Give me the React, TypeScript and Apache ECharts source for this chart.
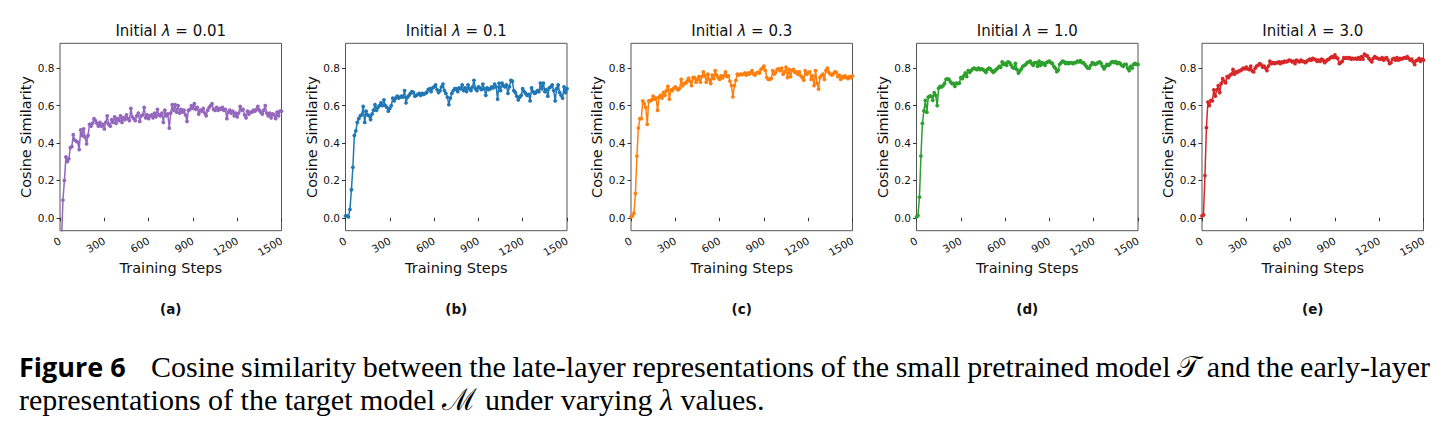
import React, { useEffect, useRef } from "react";
import * as echarts from "echarts";

// ---------------- data ----------------
const STEP_SIZE = 10; // training steps between logged points (x = index * STEP_SIZE)
const X_TICKS = [0, 300, 600, 900, 1200, 1500];
const Y_TICKS = [0.0, 0.2, 0.4, 0.6, 0.8];
const LAMBDA_LABELS = ["0.01", "0.1", "0.3", "1.0", "3.0"];
const SUB_LABELS = ["(a)", "(b)", "(c)", "(d)", "(e)"];
const COLORS = ["#9467bd", "#1f77b4", "#ff7f0e", "#2ca02c", "#d62728"];

const SIM_LAMBDA_001 = [
  -0.5, -0.12, 0.095, 0.2, 0.325, 0.3, 0.315, 0.375, 0.38, 0.445,
  0.415, 0.41, 0.405, 0.365, 0.47, 0.44, 0.475, 0.43, 0.395, 0.44,
  0.5, 0.49, 0.505, 0.53, 0.52, 0.505, 0.49, 0.51, 0.49, 0.5,
  0.475, 0.51, 0.545, 0.5, 0.49, 0.525, 0.51, 0.54, 0.505, 0.53,
  0.52, 0.545, 0.51, 0.535, 0.525, 0.55, 0.53, 0.52, 0.585, 0.54,
  0.53, 0.52, 0.545, 0.56, 0.515, 0.545, 0.55, 0.59, 0.535, 0.55,
  0.53, 0.545, 0.55, 0.535, 0.56, 0.54, 0.58, 0.55, 0.545, 0.56,
  0.51, 0.575, 0.545, 0.555, 0.48, 0.56, 0.605, 0.575, 0.605, 0.565,
  0.6, 0.56, 0.58, 0.565, 0.575, 0.55, 0.515, 0.575, 0.58, 0.6,
  0.585, 0.61, 0.58, 0.59, 0.555, 0.575, 0.57, 0.585, 0.56, 0.545,
  0.575, 0.59, 0.6, 0.61, 0.58, 0.575, 0.59, 0.575, 0.585, 0.58,
  0.59, 0.575, 0.58, 0.53, 0.565, 0.575, 0.56, 0.57, 0.545, 0.56,
  0.54, 0.56, 0.595, 0.575, 0.58, 0.55, 0.535, 0.57, 0.555, 0.565,
  0.565, 0.575, 0.57, 0.58, 0.595, 0.575, 0.565, 0.555, 0.575, 0.6,
  0.56, 0.545, 0.56, 0.535, 0.555, 0.55, 0.53, 0.565, 0.545, 0.57,
  0.57,
];

const SIM_LAMBDA_01 = [
  0.01, 0.01, 0.005, 0.045, 0.15, 0.27, 0.44, 0.465, 0.51, 0.53,
  0.545, 0.55, 0.595, 0.51, 0.57, 0.55, 0.545, 0.525, 0.555, 0.575,
  0.605, 0.575, 0.59, 0.6, 0.615, 0.6, 0.63, 0.6, 0.59, 0.57,
  0.585, 0.6, 0.64, 0.625, 0.64, 0.65, 0.64, 0.645, 0.65, 0.645,
  0.68, 0.615, 0.645, 0.655, 0.665, 0.675, 0.67, 0.65, 0.655, 0.66,
  0.665, 0.655, 0.665, 0.66, 0.665, 0.67, 0.685, 0.69, 0.675, 0.695,
  0.7, 0.71, 0.685, 0.67, 0.68, 0.7, 0.715, 0.68, 0.665, 0.645,
  0.605, 0.64, 0.665, 0.68, 0.69, 0.69, 0.675, 0.695, 0.69, 0.71,
  0.68, 0.695, 0.675, 0.71, 0.69, 0.68, 0.7, 0.735, 0.69, 0.68,
  0.7, 0.695, 0.685, 0.715, 0.69, 0.655, 0.695, 0.685, 0.69, 0.7,
  0.695, 0.715, 0.7, 0.635, 0.72, 0.68, 0.72, 0.705, 0.7, 0.71,
  0.665, 0.7, 0.735, 0.73, 0.68, 0.67, 0.65, 0.63, 0.645, 0.655,
  0.69, 0.675, 0.665, 0.655, 0.66, 0.625, 0.695, 0.675, 0.665, 0.67,
  0.68, 0.675, 0.72, 0.69, 0.72, 0.675, 0.685, 0.65, 0.695, 0.7,
  0.71, 0.68, 0.625, 0.69, 0.71, 0.67, 0.655, 0.64, 0.7, 0.67,
  0.69,
];

const SIM_LAMBDA_03 = [
  0.005, 0.01, 0.025, 0.13, 0.33, 0.48, 0.53, 0.53, 0.625, 0.61,
  0.59, 0.5, 0.625, 0.625, 0.63, 0.65, 0.635, 0.64, 0.575, 0.645,
  0.655, 0.64, 0.67, 0.655, 0.68, 0.703, 0.634, 0.684, 0.68, 0.693,
  0.7, 0.69, 0.684, 0.693, 0.74, 0.707, 0.718, 0.72, 0.73, 0.746,
  0.731, 0.707, 0.75, 0.75, 0.725, 0.74, 0.755, 0.725, 0.755, 0.78,
  0.759, 0.725, 0.768, 0.74, 0.718, 0.763, 0.744, 0.787, 0.763, 0.75,
  0.74, 0.759, 0.748, 0.76, 0.78, 0.755, 0.759, 0.731, 0.707, 0.647,
  0.707, 0.735, 0.768, 0.763, 0.768, 0.765, 0.768, 0.774, 0.763, 0.774,
  0.768, 0.778, 0.787, 0.768, 0.763, 0.775, 0.778, 0.774, 0.793, 0.8,
  0.811, 0.787, 0.75, 0.74, 0.74, 0.745, 0.787, 0.768, 0.778, 0.793,
  0.796, 0.787, 0.8, 0.768, 0.78, 0.806, 0.75, 0.793, 0.755, 0.787,
  0.793, 0.778, 0.78, 0.768, 0.78, 0.759, 0.75, 0.736, 0.787, 0.768,
  0.775, 0.78, 0.74, 0.759, 0.707, 0.787, 0.72, 0.688, 0.75, 0.76,
  0.768, 0.74, 0.787, 0.8, 0.778, 0.768, 0.763, 0.77, 0.78, 0.778,
  0.755, 0.763, 0.74, 0.755, 0.75, 0.759, 0.75, 0.744, 0.755, 0.75,
  0.759,
];

const SIM_LAMBDA_10 = [
  0.005, 0.012, 0.11, 0.33, 0.505, 0.572, 0.628, 0.565, 0.645, 0.65,
  0.65, 0.628, 0.669, 0.655, 0.6, 0.693, 0.702, 0.7, 0.707, 0.718,
  0.74, 0.743, 0.74, 0.727, 0.718, 0.718, 0.703, 0.72, 0.718, 0.72,
  0.75, 0.744, 0.759, 0.774, 0.755, 0.787, 0.778, 0.787, 0.796, 0.8,
  0.796, 0.793, 0.8, 0.793, 0.796, 0.793, 0.787, 0.778, 0.793, 0.8,
  0.796, 0.787, 0.778, 0.785, 0.793, 0.8, 0.81, 0.805, 0.834, 0.82,
  0.825, 0.815, 0.834, 0.83, 0.818, 0.805, 0.8, 0.825, 0.793, 0.774,
  0.785, 0.796, 0.81, 0.815, 0.82, 0.83, 0.834, 0.837, 0.825, 0.815,
  0.83, 0.83, 0.81, 0.837, 0.815, 0.83, 0.825, 0.815, 0.83, 0.834,
  0.837, 0.83, 0.825, 0.81, 0.8, 0.781, 0.79, 0.82, 0.83, 0.837,
  0.834, 0.825, 0.83, 0.825, 0.83, 0.828, 0.825, 0.83, 0.83, 0.837,
  0.834, 0.84, 0.83, 0.83, 0.82, 0.81, 0.8, 0.8, 0.815, 0.83,
  0.825, 0.82, 0.825, 0.83, 0.834, 0.825, 0.81, 0.796, 0.81, 0.82,
  0.815, 0.822, 0.832, 0.835, 0.83, 0.835, 0.825, 0.83, 0.825, 0.815,
  0.81, 0.82, 0.82, 0.8, 0.787, 0.81, 0.8, 0.82, 0.825, 0.82,
  0.82,
];

const SIM_LAMBDA_30 = [
  0.01, 0.015, 0.226, 0.482, 0.619, 0.6, 0.628, 0.625, 0.684, 0.65,
  0.684, 0.707, 0.67, 0.718, 0.744, 0.731, 0.722, 0.755, 0.75, 0.763,
  0.768, 0.793, 0.768, 0.78, 0.778, 0.785, 0.787, 0.793, 0.8, 0.796,
  0.806, 0.796, 0.793, 0.811, 0.785, 0.78, 0.8, 0.811, 0.815, 0.824,
  0.819, 0.806, 0.811, 0.8, 0.787, 0.811, 0.837, 0.824, 0.83, 0.824,
  0.83, 0.828, 0.834, 0.824, 0.834, 0.83, 0.837, 0.834, 0.837, 0.843,
  0.84, 0.834, 0.837, 0.824, 0.843, 0.837, 0.834, 0.843, 0.837, 0.835,
  0.83, 0.837, 0.843, 0.848, 0.843, 0.852, 0.848, 0.845, 0.837, 0.843,
  0.837, 0.848, 0.843, 0.83, 0.837, 0.845, 0.848, 0.856, 0.862, 0.856,
  0.871, 0.856, 0.852, 0.824, 0.83, 0.837, 0.856, 0.852, 0.856, 0.852,
  0.856, 0.848, 0.852, 0.85, 0.852, 0.848, 0.856, 0.848, 0.862, 0.848,
  0.875, 0.868, 0.865, 0.852, 0.843, 0.834, 0.852, 0.862, 0.856, 0.852,
  0.85, 0.848, 0.856, 0.843, 0.852, 0.856, 0.843, 0.824, 0.83, 0.848,
  0.852, 0.843, 0.856, 0.843, 0.852, 0.848, 0.852, 0.856, 0.854, 0.862,
  0.852, 0.843, 0.848, 0.834, 0.819, 0.84, 0.843, 0.852, 0.837, 0.848,
  0.843,
];

const SERIES_VALUES = [SIM_LAMBDA_001, SIM_LAMBDA_01, SIM_LAMBDA_03, SIM_LAMBDA_10, SIM_LAMBDA_30];

// ---------------- layout ----------------
const W = 1448;
const H = 428;
const GRID_LEFT = [60, 345.5, 631, 916.5, 1202];
const GRID_TOP = 43.3;
const GRID_W = 221.5;
const GRID_H = 187.4;
const Y_MIN = -0.069;
const Y_MAX = 0.933;

const SANS = "'DejaVu Sans', sans-serif";
const SERIF = "'Liberation Serif', 'DejaVu Serif', serif";
const TEXT_COLOR = "#111";

const CAPTION_LINE1 =
  "Cosine similarity between the late-layer representations of the small pretrained model 𝒯 and the early-layer";
const CAPTION_LINE2_A = "representations of the target model ";
const CAPTION_LINE2_B = " under varying ";
const CAPTION_LINE2_C = " values.";

function measure(text: string, font: string): number {
  const c = document.createElement("canvas").getContext("2d");
  if (!c) return text.length * 12;
  c.font = font;
  return c.measureText(text).width;
}

function buildOption() {
  const grid = GRID_LEFT.map((left) => ({
    left,
    top: GRID_TOP,
    width: GRID_W,
    height: GRID_H,
    show: true,
    borderColor: "#555",
    borderWidth: 1,
    backgroundColor: "transparent",
  }));

  const xAxis = GRID_LEFT.map((_, i) => ({
    type: "value",
    gridIndex: i,
    min: X_TICKS[0],
    max: X_TICKS[X_TICKS.length - 1],
    interval: X_TICKS[1] - X_TICKS[0],
    splitLine: { show: false },
    axisLine: { show: false },
    axisTick: { show: true, length: 3.5, lineStyle: { color: "#333", width: 1 } },
    axisLabel: {
      rotate: 30,
      fontSize: 10.5,
      fontFamily: SANS,
      color: TEXT_COLOR,
      margin: 9,
      showMinLabel: true,
      showMaxLabel: true,
      hideOverlap: false,
      formatter: (v: number) => String(v),
    },
    name: "Training Steps",
    nameLocation: "middle",
    nameGap: 27,
    nameTextStyle: { fontSize: 14.5, fontFamily: SANS, color: TEXT_COLOR },
  }));

  const yAxis = GRID_LEFT.map((_, i) => ({
    type: "value",
    gridIndex: i,
    min: Y_MIN,
    max: Y_MAX,
    splitLine: { show: false },
    axisLine: { show: false },
    axisTick: {
      show: true,
      length: 3.5,
      customValues: Y_TICKS,
      lineStyle: { color: "#333", width: 1 },
    },
    axisLabel: {
      customValues: Y_TICKS,
      formatter: (v: number) => v.toFixed(1),
      fontSize: 10.5,
      fontFamily: SANS,
      color: TEXT_COLOR,
      margin: 5.5,
    },
    name: "Cosine Similarity",
    nameLocation: "middle",
    nameGap: 21.5,
    nameTextStyle: { fontSize: 14.5, fontFamily: SANS, color: TEXT_COLOR },
  }));

  const series = SERIES_VALUES.map((vals, i) => ({
    type: "line",
    xAxisIndex: i,
    yAxisIndex: i,
    data: vals.map((v, k) => [k * STEP_SIZE, v]),
    symbol: "circle",
    symbolSize: 3.8,
    showSymbol: true,
    clip: true,
    silent: true,
    lineStyle: { color: COLORS[i], width: 1.5 },
    itemStyle: { color: COLORS[i] },
  }));

  const graphic: any[] = [];
  GRID_LEFT.forEach((left, i) => {
    const cx = left + GRID_W / 2;
    graphic.push({
      type: "text",
      x: cx,
      y: 30.5,
      style: {
        text: `Initial {i|λ} = ${LAMBDA_LABELS[i]}`,
        fontSize: 15,
        fontFamily: SANS,
        fill: TEXT_COLOR,
        align: "center",
        verticalAlign: "middle",
        rich: {
          i: { fontStyle: "italic", fontSize: 15, fontFamily: SANS, fill: TEXT_COLOR },
        },
      },
    });
    graphic.push({
      type: "text",
      x: cx,
      y: 308.5,
      style: {
        text: SUB_LABELS[i],
        fontSize: 13.5,
        fontWeight: "bold",
        fontFamily: SANS,
        fill: TEXT_COLOR,
        align: "center",
        verticalAlign: "middle",
      },
    });
  });

  // caption
  const capSize = 30;
  const capFont = `${capSize}px 'Liberation Serif'`;
  const line1Y = 366;
  const line2Y = 399;
  graphic.push({
    type: "text",
    x: 19,
    y: line1Y,
    style: {
      text: "Figure 6",
      fontSize: 27,
      fontWeight: "bold",
      fontFamily: "'Open Sans', Lato, sans-serif",
      fill: "#000",
      align: "left",
      verticalAlign: "middle",
    },
  });
  // justified first line
  const words = CAPTION_LINE1.split(" ");
  const widths = words.map((w) => measure(w, capFont));
  const startX = 151;
  const endX = 1430;
  const total = widths.reduce((a, b) => a + b, 0);
  const gap = (endX - startX - total) / (words.length - 1);
  let cursor = startX;
  words.forEach((w, k) => {
    graphic.push({
      type: "text",
      x: cursor,
      y: line1Y,
      style: {
        text: w,
        fontSize: capSize,
        fontFamily: SERIF,
        fill: "#000",
        align: "left",
        verticalAlign: "middle",
      },
    });
    cursor += widths[k] + gap;
  });
  graphic.push({
    type: "text",
    x: 19,
    y: line2Y,
    style: {
      text: `${CAPTION_LINE2_A}{m|ℳ}${CAPTION_LINE2_B}{i|λ}${CAPTION_LINE2_C}`,
      fontSize: capSize,
      fontFamily: SERIF,
      fill: "#000",
      align: "left",
      verticalAlign: "middle",
      rich: {
        m: { fontSize: capSize, fontFamily: SERIF, fill: "#000" },
        i: { fontSize: capSize, fontFamily: SERIF, fontStyle: "italic", fill: "#000" },
      },
    },
  });

  return {
    animation: false,
    backgroundColor: "#fff",
    grid,
    xAxis,
    yAxis,
    series,
    graphic,
  };
}

export default function App() {
  const ref = useRef<HTMLDivElement>(null);
  useEffect(() => {
    if (!ref.current) return;
    const chart = echarts.init(ref.current, null, { renderer: "svg" });
    chart.setOption(buildOption() as any);
    return () => chart.dispose();
  }, []);
  return (
    <div
      ref={ref}
      style={{ position: "absolute", left: 0, top: 0, width: W, height: H, background: "#fff" }}
    />
  );
}
